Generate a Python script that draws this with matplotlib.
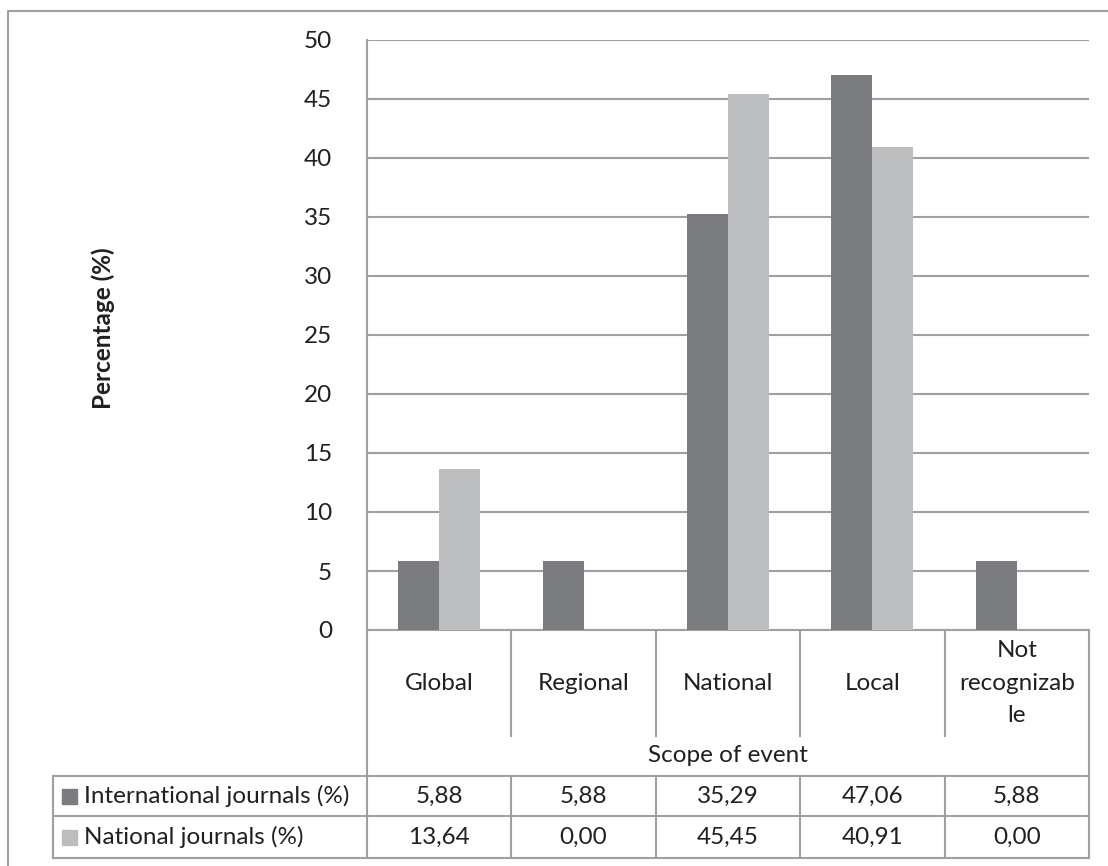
import matplotlib
matplotlib.use("Agg")
import matplotlib.pyplot as plt
from matplotlib.patches import Rectangle

# Data
categories = ["Global", "Regional", "National", "Local", "Not\nrecognizab\nle"]
series_names = ["International journals (%)", "National journals (%)"]
international = [5.88, 5.88, 35.29, 47.06, 5.88]
national = [13.64, 0.00, 45.45, 40.91, 0.00]
y_ticks = [0, 5, 10, 15, 20, 25, 30, 35, 40, 45, 50]

# Styling
W, H = 1108, 866
DPI = 100
dark = "#7b7c80"
light = "#bcbdbf"
line_c = "#a0a0a2"
text_c = "#231f20"
fs = 17.5
plt.rcParams["font.family"] = ["Lato", "DejaVu Sans"]

fig = plt.figure(figsize=(W / DPI, H / DPI), dpi=DPI)

# Pixel-space overlay for frame, category strip and data table
ov = fig.add_axes([0, 0, 1, 1])
ov.set_xlim(0, W)
ov.set_ylim(H, 0)
ov.axis("off")

# Plot area geometry (pixels)
px0, px1 = 367, 1089
py_top, py_bot = 40, 630
n = len(categories)
cw = (px1 - px0) / n

ax = fig.add_axes([px0 / W, 1 - py_bot / H, (px1 - px0) / W, (py_bot - py_top) / H])
ax.set_xlim(-0.5, n - 0.5)
ax.set_ylim(0, 50)
bw = 0.284
xs = list(range(n))
ax.bar([x - bw / 2 for x in xs], international, width=bw, color=dark, zorder=3)
ax.bar([x + bw / 2 for x in xs], national, width=bw, color=light, zorder=3)
ax.set_yticks(y_ticks)
ax.set_yticklabels([str(t) for t in y_ticks], fontsize=fs, color=text_c)
ax.tick_params(axis="y", length=0, pad=25)
ax.set_xticks([])
ax.yaxis.grid(True, color=line_c, linewidth=1.5, zorder=0)
for s in ["top", "right", "bottom"]:
    ax.spines[s].set_visible(False)
ax.spines["left"].set_color(line_c)
ax.spines["left"].set_linewidth(1.5)
ax.patch.set_alpha(0)

# Y-axis title
fig.text(103 / W, 1 - 328 / H, "Percentage (%)", rotation=90, ha="center", va="center",
         fontsize=fs, fontweight="bold", color=text_c)

lw = 1.5
# Outer chart frame (extends past the canvas on right and bottom)
ov.plot([8, 8, W + 10], [H + 10, 11, 11], color=line_c, lw=lw, solid_capstyle="butt")

# Category strip below the axis
y_cat_bot = 736
y_tab = [776, 816, 858]
tab_left = 53
ov.plot([px0, px1], [py_bot, py_bot], color=line_c, lw=lw)
ov.plot([px0, px0], [py_bot, y_tab[-1]], color=line_c, lw=lw)
ov.plot([px1, px1], [py_bot, y_tab[-1]], color=line_c, lw=lw)
for i in range(1, n):
    xb = px0 + i * cw
    ov.plot([xb, xb], [py_bot, y_cat_bot], color=line_c, lw=lw)
    ov.plot([xb, xb], [y_tab[0], y_tab[-1]], color=line_c, lw=lw)
for i, c in enumerate(categories):
    ov.text(px0 + (i + 0.5) * cw, (py_bot + y_cat_bot) / 2, c, ha="center", va="center",
            fontsize=fs, color=text_c, linespacing=1.65)
ov.text((px0 + px1) / 2, 756, "Scope of event", ha="center", va="center",
        fontsize=fs, color=text_c)

# Data table
for yy in y_tab:
    ov.plot([tab_left, px1], [yy, yy], color=line_c, lw=lw)
ov.plot([tab_left, tab_left], [y_tab[0], y_tab[-1]], color=line_c, lw=lw)

rows = [international, national]
colors = [dark, light]
for r, (vals, name, col) in enumerate(zip(rows, series_names, colors)):
    yc = (y_tab[r] + y_tab[r + 1]) / 2
    ov.add_patch(Rectangle((62, yc - 7.5), 15, 15, color=col))
    ov.text(84, yc, name, ha="left", va="center", fontsize=fs, color=text_c)
    for i, v in enumerate(vals):
        ov.text(px0 + (i + 0.5) * cw, yc, f"{v:.2f}".replace(".", ","), ha="center",
                va="center", fontsize=fs, color=text_c)

fig.savefig("out.png", dpi=DPI, facecolor="white")
